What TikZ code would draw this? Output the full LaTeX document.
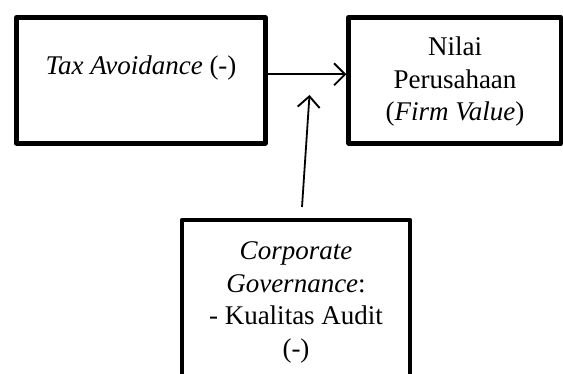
\documentclass[tikz,border=0pt]{standalone}
\usepackage{fontspec}
\setmainfont{Liberation Serif}
\usetikzlibrary{arrows.meta}
\tikzset{
  box/.style={draw, line width=4.3pt, line join=round, inner sep=0pt},
  txt/.style={anchor=base, inner sep=0pt, font=\fontsize{27}{33}\selectfont},
  arr/.style={line width=1.8pt, -{Straight Barb[length=11pt,width=22pt,line width=1.9pt]}}
}
\begin{document}
\begin{tikzpicture}[x=1pt,y=-1pt]
\useasboundingbox (0,0) rectangle (563,374);
\clip (0,0) rectangle (563,374);
\node[box, minimum width=249pt, minimum height=126pt] (tax) at (141,80.4) {};
\node[box, minimum width=212.4pt, minimum height=126pt] (firm) at (454.8,80.4) {};
\node[box, minimum width=228pt, minimum height=200pt] (cg) at (296,320) {};
% texts
\node[txt] (t1) at (141,75) {\textit{Tax Avoidance} (-)};
\node[txt] (f1) at (455,55.7) {Nilai};
\node[txt] (f2) at (455,88.5) {Perusahaan};
\node[txt] (f3) at (455,121) {(\textit{Firm Value})};
\node[txt] (c1) at (296,259.5) {\textit{Corporate}};
\node[txt] (c2) at (296,292.5) {\textit{Governance}:};
\node[txt] (c3) at (296,325) {- Kualitas Audit};
\node[txt] (c4) at (296,357.5) {(-)};
% arrows
\coordinate (h) at (0,74.3);
\draw[arr] (tax.east |- h) -- (firm.west |- h);
\coordinate (vs) at (302,207);
\coordinate (ve) at (309.5,95);
\draw[arr] (vs) -- (ve);
\end{tikzpicture}
\end{document}
